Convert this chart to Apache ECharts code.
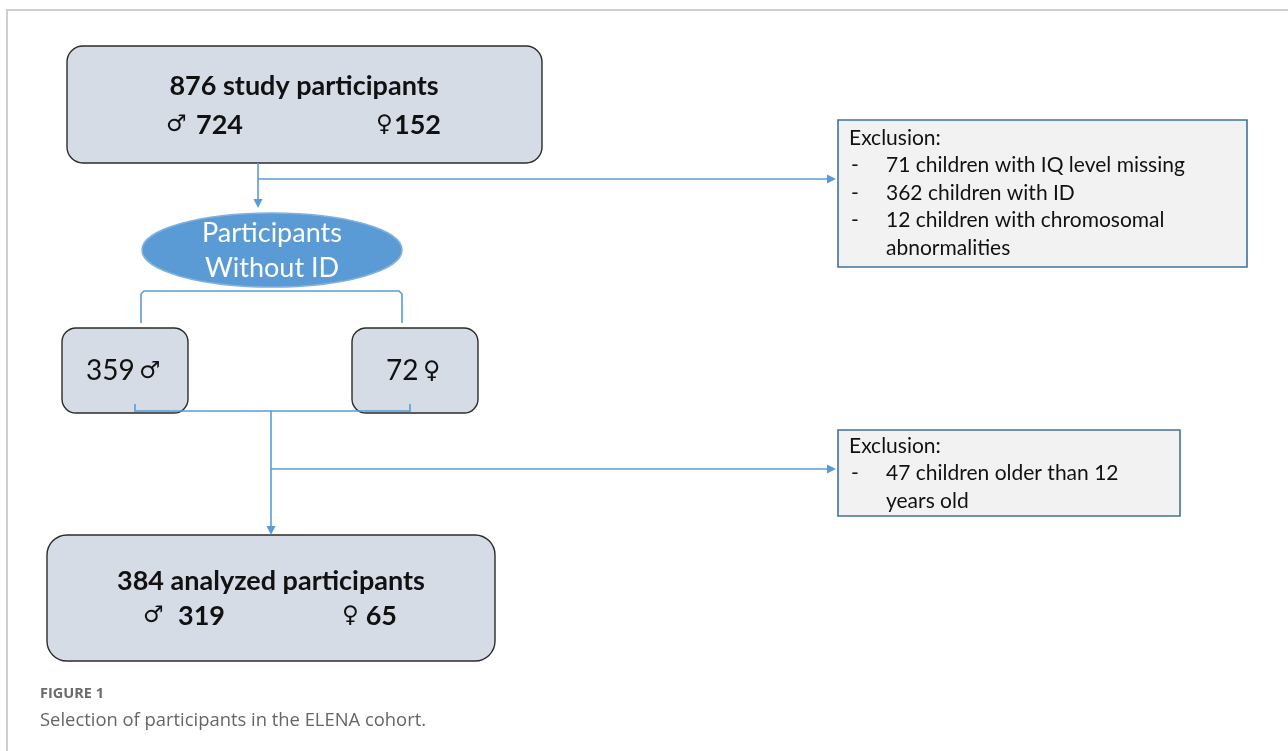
<!DOCTYPE html>
<html>
<head>
<meta charset="utf-8">
<script src="https://cdn.jsdelivr.net/npm/echarts@6/dist/echarts.min.js"></script>
<style>
html,body{margin:0;padding:0;background:#fff;}
#chart{width:1288px;height:751px;}
</style>
</head>
<body>
<div id="chart"></div>
<script>
// ---- data ----
const studyTotal = 876, studyMale = 724, studyFemale = 152;
const withoutIdLabel = ["Participants", "Without ID"];
const withoutIdMale = 359, withoutIdFemale = 72;
const analyzedTotal = 384, analyzedMale = 319, analyzedFemale = 65;
const exclusion1Title = "Exclusion:";
const exclusion1Items = [["71 children with IQ level missing"], ["362 children with ID"], ["12 children with chromosomal", "abnormalities"]];
const exclusion2Title = "Exclusion:";
const exclusion2Items = [["47 children older than 12", "years old"]];
const captionLabel = "FIGURE 1";
const captionText = "Selection of participants in the ELENA cohort.";
const maleSign = "\u2642", femaleSign = "\u2640";

// ---- layout (in hidden-axis units) ----
const FONT = 'Lato, "Noto Sans", sans-serif';
const SYMFONT = '"DejaVu Sans", sans-serif';
const LINE = '#5b9bd5';
const layout = [
  {kind:'frame'},
  {kind:'rbox', box:[67,46,542,163], r:16},
  {kind:'ellipse', c:[272,250], rx:130, ry:37},
  {kind:'rbox', box:[62,328,188,413], r:14},
  {kind:'rbox', box:[352,328,478,413], r:14},
  {kind:'rbox', box:[47,535,495,661], r:20},
  {kind:'ebox', box:[838,120,1247,267]},
  {kind:'ebox', box:[838,430,1180,516]},
  {kind:'conn'},
  {kind:'text'}
];

function renderItem(params, api) {
  const n = layout[api.value(0)];
  const P = (x, y) => api.coord([x, y]);
  const children = [];
  const rect = (b, r, fill, stroke, lw) => {
    const a = P(b[0], b[1]), c = P(b[2], b[3]);
    return {type:'rect', shape:{x:a[0], y:a[1], width:c[0]-a[0], height:c[1]-a[1], r:r},
      style:{fill:fill, stroke:stroke, lineWidth:lw}};
  };
  const line = (pts, color, lw) => ({type:'polyline', shape:{points:pts.map(p => P(p[0], p[1]))},
      style:{stroke:color||LINE, lineWidth:lw||1.6, fill:null}});
  const arrow = (tip, dir) => {
    const t = P(tip[0], tip[1]);
    let pts;
    if (dir === 'down') pts = [[t[0], t[1]], [t[0]-4.5, t[1]-9], [t[0]+4.5, t[1]-9]];
    else pts = [[t[0], t[1]], [t[0]-9, t[1]-4.5], [t[0]-9, t[1]+4.5]];
    return {type:'polygon', shape:{points:pts}, style:{fill:LINE}};
  };
  const txt = (s, x, y, o) => {
    const p = P(x, y);
    o = o || {};
    return {type:'text', x:p[0], y:p[1], style:{text:s, fill:o.fill||'#111',
      fontSize:o.size||20, fontWeight:o.weight||'normal', fontFamily:o.family||FONT,
      align:o.align||'left', verticalAlign:'middle'}};
  };
  if (n.kind === 'frame') {
    children.push(line([[7,751],[7,10],[1288,10]], '#cfcfcf', 2));
  } else if (n.kind === 'rbox') {
    children.push(rect(n.box, n.r, '#d6dce5', '#2b2b2b', 1.4));
  } else if (n.kind === 'ebox') {
    children.push(rect(n.box, 0, '#f2f2f2', '#41719c', 1.6));
  } else if (n.kind === 'ellipse') {
    const c = P(n.c[0], n.c[1]), e = P(n.c[0]+n.rx, n.c[1]+n.ry);
    children.push({type:'ellipse', shape:{cx:c[0], cy:c[1], rx:e[0]-c[0], ry:e[1]-c[1]},
      style:{fill:'#5b9bd5', stroke:'#7fb0de', lineWidth:1.5}});
  } else if (n.kind === 'conn') {
    children.push(line([[258,163],[258,199]]));
    children.push(arrow([258,208], 'down'));
    children.push(line([[258,179],[827,179]]));
    children.push(arrow([836,179], 'right'));
    children.push(line([[141,323],[141,294],[144,291],[399,291],[402,294],[402,323]]));
    children.push(line([[135,404],[135,411],[410,411],[410,404]]));
    children.push(line([[271,411],[271,526]]));
    children.push(arrow([271,535], 'down'));
    children.push(line([[271,469],[827,469]]));
    children.push(arrow([836,469], 'right'));
  } else if (n.kind === 'text') {
    const B = {size:27, weight:'bold'};
    const S = {size:23, weight:'bold', family:SYMFONT};
    // top box
    children.push(txt(studyTotal + ' study participants', 304, 86, Object.assign({align:'center'}, B)));
    children.push(txt(maleSign, 166, 125, S));
    children.push(txt(String(studyMale), 196, 125, B));
    children.push(txt(femaleSign, 376, 125, S));
    children.push(txt(String(studyFemale), 441, 125, Object.assign({align:'right'}, B)));
    // ellipse
    children.push(txt(withoutIdLabel[0], 272, 233, {size:27, fill:'#ffffff', align:'center'}));
    children.push(txt(withoutIdLabel[1], 272, 268, {size:27, fill:'#ffffff', align:'center'}));
    // small boxes
    children.push(txt(String(withoutIdMale), 86, 371, {size:28}));
    children.push(txt(maleSign, 139, 372, {size:24, family:SYMFONT}));
    children.push(txt(String(withoutIdFemale), 386, 371, {size:28}));
    children.push(txt(femaleSign, 423, 372, {size:24, family:SYMFONT}));
    // bottom box
    children.push(txt(analyzedTotal + ' analyzed participants', 271, 581, Object.assign({align:'center'}, B)));
    children.push(txt(maleSign, 143, 616, S));
    children.push(txt(String(analyzedMale), 178, 616, B));
    children.push(txt(femaleSign, 342, 616, S));
    children.push(txt(String(analyzedFemale), 397, 616, Object.assign({align:'right'}, B)));
    // exclusion boxes
    const exBlock = (title, items, x, y) => {
      children.push(txt(title, x, y, {size:21}));
      let yy = y + 27.5;
      items.forEach(it => {
        children.push(txt('-', x + 2, yy, {size:21}));
        it.forEach(l => { children.push(txt(l, x + 37, yy, {size:21})); yy += 27.5; });
      });
    };
    exBlock(exclusion1Title, exclusion1Items, 849, 138);
    exBlock(exclusion2Title, exclusion2Items, 849, 446);
    // caption
    children.push(txt(captionLabel, 40, 694, {size:14.5, weight:'bold', fill:'#6b6b6b', family:'"Open Sans", sans-serif'}));
    children.push(txt(captionText, 40, 721, {size:18.4, fill:'#666666', family:'"Open Sans", sans-serif'}));
  }
  return {type:'group', children:children};
}

const chart = echarts.init(document.getElementById('chart'), null, {renderer:'canvas'});
chart.setOption({
  animation:false,
  backgroundColor:'#ffffff',
  grid:{left:0, right:0, top:0, bottom:0},
  xAxis:{type:'value', min:0, max:1288, show:false},
  yAxis:{type:'value', min:0, max:751, inverse:true, show:false},
  series:[{
    type:'custom',
    coordinateSystem:'cartesian2d',
    renderItem:renderItem,
    clip:false,
    data:layout.map((d, i) => [i])
  }]
});
</script>
</body>
</html>
